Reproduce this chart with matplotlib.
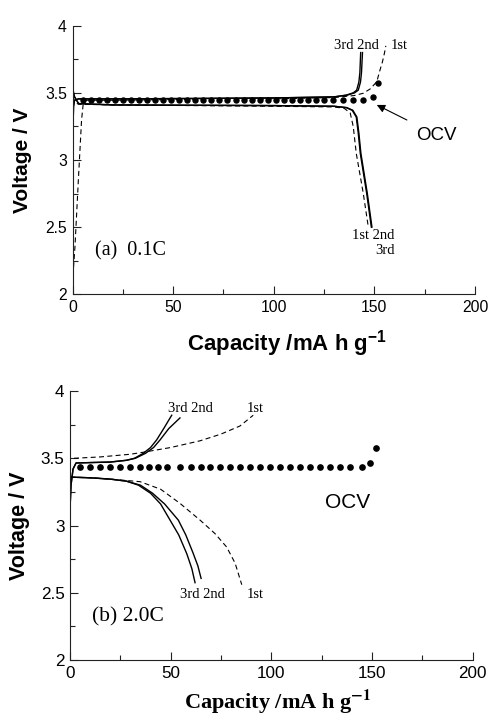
import numpy as np
import matplotlib
matplotlib.use("Agg")
import matplotlib.pyplot as plt
from matplotlib.ticker import MultipleLocator, FormatStrFormatter

plt.rcParams['font.family'] = ['Liberation Sans', 'DejaVu Sans']
plt.rcParams['mathtext.fontset'] = 'custom'
plt.rcParams['mathtext.rm'] = 'Liberation Sans'
plt.rcParams['mathtext.bf'] = 'Liberation Sans:bold'

# ---- (a) 0.1C ----
a_chg1_x = [0.5, 1.2, 2.9, 4.5, 5.4, 7, 20, 50, 100, 130, 140, 144.5, 148, 151.2, 152.8, 154, 155, 155.7]
a_chg1_y = [2.2, 2.35, 2.85, 3.3, 3.43, 3.445, 3.445, 3.45, 3.455, 3.465, 3.48, 3.497, 3.53, 3.583, 3.67, 3.73, 3.795, 3.85]
a_chg3_x = [0, 0.2, 0.5, 1, 3, 20, 60, 100, 130, 136, 139.5, 141.2, 142.3, 142.8, 143.2]
a_chg3_y = [2.85, 3.2, 3.40, 3.445, 3.455, 3.455, 3.458, 3.462, 3.47, 3.483, 3.50, 3.52, 3.58, 3.65, 3.8]
a_chg2_x = [0, 0.2, 0.5, 1, 3, 20, 60, 100, 130, 136.5, 140.2, 142.0, 143.1, 143.6, 144.1]
a_chg2_y = [2.85, 3.2, 3.40, 3.445, 3.455, 3.455, 3.458, 3.462, 3.47, 3.483, 3.50, 3.52, 3.58, 3.65, 3.8]
a_dis1_x = [0, 1, 3, 20, 100, 130, 135, 138, 139.5, 141, 144.5, 147]
a_dis1_y = [3.47, 3.43, 3.415, 3.41, 3.40, 3.395, 3.385, 3.35, 3.25, 3.05, 2.75, 2.5]
a_dis2_x = [0, 0.5, 1, 3, 20, 100, 130, 136, 139, 141, 142, 143, 146.2, 148.5]
a_dis2_y = [3.56, 3.5, 3.47, 3.42, 3.41, 3.405, 3.40, 3.39, 3.37, 3.32, 3.2, 3.05, 2.75, 2.5]
a_dis3_x = [0, 0.5, 1, 3, 20, 100, 130, 136.3, 139.3, 141.3, 142.3, 143.3, 146.5, 148.8]
a_dis3_y = [3.56, 3.5, 3.47, 3.42, 3.41, 3.405, 3.40, 3.39, 3.37, 3.32, 3.2, 3.05, 2.75, 2.5]
a_ocv_x = [5, 9, 13, 17, 21, 25, 29, 33, 37, 41, 45, 49, 53, 57, 61, 65, 69, 73, 77, 81,
           85, 89, 93, 97, 101, 105, 109, 113, 117, 121, 125, 129.3, 134.3, 139.2, 144.5, 149.2, 152]
a_ocv_y = [3.447] * 35 + [3.467, 3.576]

# ---- (b) 2.0C ----
b_chg1_x = [2, 15, 30, 36.4, 50, 64.6, 75, 84.4, 91]
b_chg1_y = [3.50, 3.51, 3.53, 3.545, 3.58, 3.63, 3.68, 3.74, 3.82]
b_chg3_x = [0, 0.5, 1.5, 3, 10, 20, 28, 32, 36.4, 40, 43, 46.5, 50.5]
b_chg3_y = [3.12, 3.3, 3.42, 3.465, 3.468, 3.472, 3.485, 3.50, 3.537, 3.58, 3.636, 3.72, 3.82]
b_chg2_x = [0, 0.5, 1.5, 3, 10, 20, 28, 32.5, 37.5, 41.5, 44.7, 49, 54.6]
b_chg2_y = [3.12, 3.3, 3.42, 3.465, 3.468, 3.472, 3.485, 3.50, 3.537, 3.58, 3.636, 3.72, 3.80]
b_dis1_x = [0, 10, 20, 34.8, 45, 54.6, 64.6, 72, 77.8, 82, 85.3]
b_dis1_y = [3.36, 3.355, 3.345, 3.326, 3.27, 3.165, 3.04, 2.94, 2.84, 2.72, 2.56]
b_dis3_x = [0, 10, 20, 28, 34, 40, 45, 49.7, 54, 58, 60.5, 62.1]
b_dis3_y = [3.36, 3.355, 3.345, 3.33, 3.30, 3.24, 3.16, 3.04, 2.93, 2.79, 2.68, 2.575]
b_dis2_x = [0, 10, 20, 28, 35, 41, 47, 53.8, 57.5, 61, 63.5, 65.1]
b_dis2_y = [3.36, 3.355, 3.345, 3.33, 3.30, 3.24, 3.16, 3.04, 2.93, 2.80, 2.70, 2.607]
b_ocv_x = [5.0, 10, 14.9, 19.9, 24.8, 29.8, 34.8, 39.4, 43.9, 48.0, 54.6, 60.1, 64.9, 69.5, 74.5,
           79.5, 84.4, 89.4, 94.4, 99.3, 104.3, 109.3, 114.3, 119.2, 124.2, 129.2, 134.2, 139.2,
           144.8, 149, 151.8]
b_ocv_y = [3.437] * 29 + [3.467, 3.574]

fig = plt.figure(figsize=(4.92, 7.2), dpi=100)
ax1 = fig.add_axes([0.1474, 0.5913, 0.818, 0.373])
ax2 = fig.add_axes([0.1423, 0.0833, 0.8185, 0.3736])

serif = 'Liberation Serif'
dash = (0, (4.5, 3))


def style(ax, fs):
    ax.spines['top'].set_visible(False)
    ax.spines['right'].set_visible(False)
    for s in ('left', 'bottom'):
        ax.spines[s].set_linewidth(0.8)
        ax.spines[s].set_color('#222222')
    ax.set_xlim(0, 200)
    ax.set_ylim(2, 4)
    ax.xaxis.set_major_locator(MultipleLocator(50))
    ax.xaxis.set_minor_locator(MultipleLocator(25))
    ax.yaxis.set_major_locator(MultipleLocator(0.5))
    ax.yaxis.set_minor_locator(MultipleLocator(0.25))
    ax.yaxis.set_major_formatter(FormatStrFormatter('%g'))
    ax.tick_params(which='major', direction='in', length=5.5, width=0.8, labelsize=fs, pad=4,
                   color='#222222')
    ax.tick_params(which='minor', direction='in', length=3.5, width=0.8, color='#222222')


style(ax1, 11.3)
style(ax2, 12.3)

lw = 1.0
ax1.plot(a_chg1_x, a_chg1_y, color='k', lw=0.8, ls=dash)
ax1.plot(a_dis1_x, a_dis1_y, color='k', lw=0.8, ls=dash)
ax1.plot(a_chg2_x, a_chg2_y, color='k', lw=lw)
ax1.plot(a_chg3_x, a_chg3_y, color='k', lw=lw)
ax1.plot(a_dis2_x, a_dis2_y, color='k', lw=lw)
ax1.plot(a_dis3_x, a_dis3_y, color='k', lw=lw)
ax1.plot(a_ocv_x, a_ocv_y, 'o', color='k', ms=3.6, ls='none')

ax2.plot(b_chg1_x, b_chg1_y, color='k', lw=0.8, ls=dash)
ax2.plot(b_dis1_x, b_dis1_y, color='k', lw=0.8, ls=dash)
ax2.plot(b_chg2_x, b_chg2_y, color='k', lw=lw)
ax2.plot(b_chg3_x, b_chg3_y, color='k', lw=lw)
ax2.plot(b_dis2_x, b_dis2_y, color='k', lw=lw)
ax2.plot(b_dis3_x, b_dis3_y, color='k', lw=lw)
ax2.plot(b_ocv_x, b_ocv_y, 'o', color='k', ms=3.8, ls='none')

# annotations (a)
ax1.text(140.9, 3.856, '3rd 2nd', family=serif, fontsize=10.5, ha='center', va='center')
ax1.text(162.4, 3.856, '1st', family=serif, fontsize=10.5, ha='center', va='center')
ax1.text(149.3, 2.434, '1st 2nd', family=serif, fontsize=10.5, ha='center', va='center')
ax1.text(155.1, 2.325, '3rd', family=serif, fontsize=10.5, ha='center', va='center')
ax1.text(11.2, 2.325, '(a)  0.1C', family=serif, fontsize=14.5, ha='left', va='center')
ax1.annotate('OCV', xy=(151.2, 3.41), xytext=(171, 3.186), fontsize=13.5, va='center', ha='left',
             arrowprops=dict(arrowstyle='-|>', color='k', lw=0.8, shrinkA=6, shrinkB=0,
                             mutation_scale=12))

# annotations (b)
ax2.text(59.6, 3.87, '3rd 2nd', family=serif, fontsize=10.5, ha='center', va='center')
ax2.text(92, 3.87, '1st', family=serif, fontsize=10.5, ha='center', va='center')
ax2.text(66, 2.49, '3rd 2nd', family=serif, fontsize=10.5, ha='center', va='center')
ax2.text(91.9, 2.49, '1st', family=serif, fontsize=10.5, ha='center', va='center')
ax2.text(10.8, 2.32, '(b) 2.0C', family=serif, fontsize=15.5, ha='left', va='center')
ax2.text(126.6, 3.172, 'OCV', fontsize=15, ha='left', va='center')

# axis labels
ax1.set_ylabel('Voltage / V', fontsize=15, fontweight='bold')
ax1.yaxis.set_label_coords(-0.101, 0.5)
ax2.set_ylabel('Voltage / V', fontsize=15.5, fontweight='bold')
ax2.yaxis.set_label_coords(-0.099, 0.5)

xl1 = ax1.set_xlabel(r'Capacity /mA h g$^{\mathbf{-1}}$', fontsize=16, fontweight='bold')
xl1.set_math_fontfamily('custom')
ax1.xaxis.set_label_coords(0.532, -0.125)
xl2 = ax2.set_xlabel(r'Capacity /mA h g$^{\mathbf{-1}}$', fontsize=16, fontweight='bold',
                     family=serif)
xl2.set_math_fontfamily('stix')
ax2.xaxis.set_label_coords(0.515, -0.105)

fig.savefig('out.png', dpi=100)
